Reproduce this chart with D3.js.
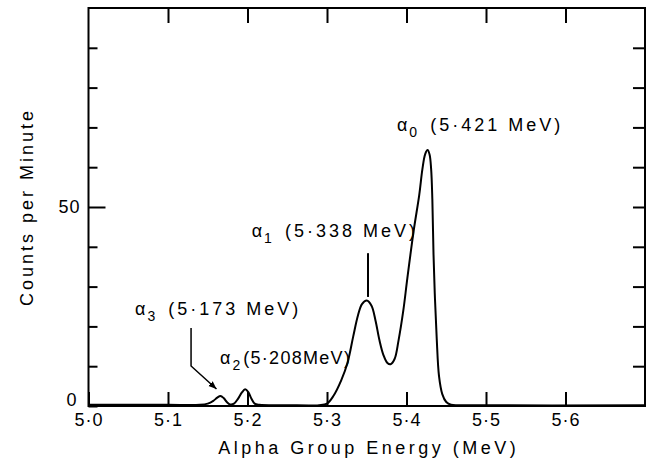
<!DOCTYPE html>
<html>
<head>
<meta charset="utf-8">
<script src="https://cdn.jsdelivr.net/npm/d3@7"></script>
<style>
  body { margin: 0; background: #fff; }
  svg { display: block; }
  text { font-family: "Liberation Sans", Arial, sans-serif; fill: #000; }
</style>
</head>
<body>
<div id="chart"></div>
<script>
// Spectrum: energy (MeV) and counts per minute
const energy = [5.000, 5.050, 5.100, 5.140, 5.150, 5.157, 5.162, 5.166, 5.170, 5.174,
  5.178, 5.183, 5.188, 5.193, 5.197, 5.201, 5.205, 5.209, 5.215, 5.250,
  5.290, 5.300, 5.308, 5.318, 5.326, 5.333, 5.339, 5.344, 5.350, 5.356,
  5.361, 5.366, 5.371, 5.376, 5.380, 5.385, 5.390, 5.396, 5.401, 5.409,
  5.416, 5.420, 5.4235, 5.4265, 5.429, 5.431, 5.4325, 5.434, 5.4358, 5.438,
  5.4409, 5.445, 5.450, 5.456, 5.470, 5.700];
const counts = [0.3, 0.3, 0.3, 0.3, 0.6, 1.3, 2.1, 2.5, 2.0, 1.0,
  0.4, 0.6, 1.8, 3.4, 4.2, 3.5, 1.8, 0.6, 0.3, 0.2,
  0.2, 0.6, 2.5, 6.5, 11.0, 17.5, 22.8, 25.6, 26.5, 25.2,
  21.5, 16.5, 12.8, 10.8, 10.5, 11.8, 16.5, 24.0, 32.0, 44.0,
  53.0, 59.5, 63.3, 64.3, 63.2, 59.5, 52.0, 38.0, 27.0, 17.0,
  7.5, 3.0, 1.0, 0.3, 0.2, 0.2];

const xTicks = [5.0, 5.1, 5.2, 5.3, 5.4, 5.5, 5.6];
const xTickLabels = ["5·0", "5·1", "5·2", "5·3", "5·4", "5·5", "5·6"];
const yTicks = [0, 10, 20, 30, 40, 50, 60, 70, 80, 90, 100];
const yTickLabels = ["0", "", "", "", "", "50", "", "", "", "", ""];

// Peak labels: anchor energy / counts of the text start
const peakNames = ["α", "α", "α", "α"];
const peakSubs = ["0", "1", "2", "3"];
const peakTexts = ["(5·421 MeV)", "(5·338 MeV)", "(5·208MeV)", "(5·173 MeV)"];
const peakLabelE = [5.388, 5.2053, 5.1654, 5.0585];
const peakLabelC = [69.1, 42.5, 10.6, 22.9];

const data = energy.map((e, i) => ({e: e, c: counts[i]}));

const width = 659, height = 470;
const margin = {top: 8, right: 14, bottom: 64, left: 88.5};

const svg = d3.select("#chart").append("svg")
  .attr("width", width)
  .attr("height", height);

const x = d3.scaleLinear().domain([5.0, 5.7]).range([margin.left, width - margin.right]);
const y = d3.scaleLinear().domain([0, 100]).range([height - margin.bottom, margin.top]);

// frame
svg.append("rect")
  .attr("x", x(5.0)).attr("y", y(100))
  .attr("width", x(5.7) - x(5.0)).attr("height", y(0) - y(100))
  .attr("fill", "none").attr("stroke", "#000").attr("stroke-width", 2);

// bottom axis, ticks pointing in
const xAxis = svg.append("g")
  .attr("transform", `translate(0,${y(0)})`)
  .call(d3.axisBottom(x).tickValues(xTicks).tickSize(-14).tickSizeOuter(0).tickPadding(7)
    .tickFormat((d, i) => xTickLabels[i]));
// top axis, ticks only
const xTop = svg.append("g")
  .attr("transform", `translate(0,${y(100)})`)
  .call(d3.axisTop(x).tickValues(xTicks.slice(1)).tickSize(-15).tickSizeOuter(0).tickFormat(""));
// left axis
const yAxis = svg.append("g")
  .attr("transform", `translate(${x(5.0)},0)`)
  .call(d3.axisLeft(y).tickValues(yTicks.slice(0, 10)).tickSize(-9).tickSizeOuter(0).tickPadding(8)
    .tickFormat((d, i) => yTickLabels[i]));
yAxis.selectAll(".tick line").filter(d => d === 50).attr("x2", 17);
yAxis.selectAll(".tick text").filter(d => d === 0).attr("dy", "-0.05em").attr("x", -11);
// right axis
const yRight = svg.append("g")
  .attr("transform", `translate(${x(5.7)},0)`)
  .call(d3.axisRight(y).tickValues(yTicks.slice(1, 10)).tickSize(-12).tickSizeOuter(0).tickFormat(""));

[xAxis, xTop, yAxis, yRight].forEach(g => {
  g.select(".domain").remove();
  g.selectAll(".tick line").attr("stroke", "#000").attr("stroke-width", 2);
  g.selectAll("text").attr("font-size", 18).attr("font-family", "Liberation Sans")
    .style("letter-spacing", "1px");
});

// spectrum
const line = d3.line()
  .x(d => x(d.e))
  .y(d => y(d.c))
  .curve(d3.curveCatmullRom.alpha(0.5));

svg.append("path")
  .datum(data)
  .attr("d", line)
  .attr("fill", "none")
  .attr("stroke", "#000")
  .attr("stroke-width", 2);

// peak labels
peakNames.forEach((n, i) => {
  const t = svg.append("text")
    .attr("x", x(peakLabelE[i]))
    .attr("y", y(peakLabelC[i]))
    .attr("font-size", 18);
  t.append("tspan").text(n);
  t.append("tspan").attr("font-size", 14).attr("dx", 2).attr("dy", 6).text(peakSubs[i]);
  t.append("tspan").attr("dx", i === 2 ? 3 : 13).attr("dy", -6)
    .style("letter-spacing", i === 2 ? "1.3px" : "3px")
    .text(peakTexts[i]);
});

// leader for alpha 1
svg.append("line")
  .attr("x1", x(5.3516)).attr("x2", x(5.3516))
  .attr("y1", y(38.4)).attr("y2", y(27.4))
  .attr("stroke", "#000").attr("stroke-width", 2);

// leader with arrow for alpha 3
svg.append("defs").append("marker")
  .attr("id", "arr").attr("viewBox", "0 0 10 10")
  .attr("refX", 10).attr("refY", 5)
  .attr("markerWidth", 8).attr("markerHeight", 8)
  .attr("markerUnits", "userSpaceOnUse")
  .attr("orient", "auto")
  .append("path").attr("d", "M0,1L10,5L0,9Z").attr("fill", "#000");

svg.append("path")
  .attr("d", d3.line()([[x(5.129), y(19.6)], [x(5.129), y(10.05)], [x(5.161), y(4.27)]]))
  .attr("fill", "none").attr("stroke", "#000").attr("stroke-width", 1.5)
  .attr("marker-end", "url(#arr)");

// axis titles
svg.append("text")
  .attr("x", (x(5.0) + x(5.7)) / 2 + 2)
  .attr("y", 454)
  .attr("text-anchor", "middle")
  .attr("font-size", 18)
  .style("letter-spacing", "3.5px")
  .text("Alpha Group Energy (MeV)");

svg.append("text")
  .attr("transform", "rotate(-90)")
  .attr("x", -207)
  .attr("y", 33)
  .attr("text-anchor", "middle")
  .attr("font-size", 18)
  .style("letter-spacing", "3px")
  .text("Counts per Minute");
</script>
</body>
</html>
